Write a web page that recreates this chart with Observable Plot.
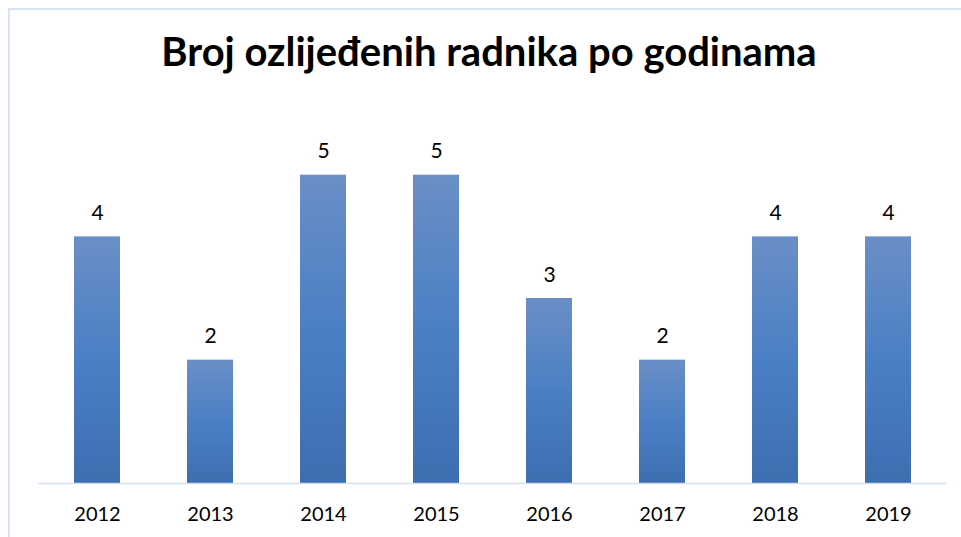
<!DOCTYPE html>
<html>
<head>
<meta charset="utf-8">
<script src="https://cdn.jsdelivr.net/npm/d3@7"></script>
<script src="https://cdn.jsdelivr.net/npm/@observablehq/plot@0.6"></script>
<style>
  html, body { margin: 0; padding: 0; background: #fff; overflow: hidden; }
  #wrap { position: relative; width: 961px; height: 537px; overflow: hidden; }
  #frame { position: absolute; left: 8px; top: 8px; width: 975px; height: 570px; border: 2px solid #d7e2f2; box-sizing: border-box; }
  #title { position: absolute; left: 0; width: 978px; top: 29px; text-align: center; font-family: Lato, "Open Sans", sans-serif; font-weight: bold; font-size: 40px; color: #000; line-height: 44px; }
  #chart { position: absolute; left: 0; top: 0; }
</style>
</head>
<body>
<div id="wrap">
  <div id="frame"></div>
  <div id="title">Broj ozlijeđenih radnika po godinama</div>
  <div id="chart"></div>
</div>
<script>
const years = ["2012", "2013", "2014", "2015", "2016", "2017", "2018", "2019"];
const injured = [4, 2, 5, 5, 3, 2, 4, 4];

const data = years.map((y, i) => ({year: y, value: injured[i]}));

const defs = () => {
  const d = d3.create("svg:defs");
  const g = d.append("linearGradient").attr("id", "barGrad")
    .attr("x1", 0).attr("y1", 0).attr("x2", 0).attr("y2", 1);
  g.append("stop").attr("offset", "0%").attr("stop-color", "#6a8fc7");
  g.append("stop").attr("offset", "50%").attr("stop-color", "#4b7fc4");
  g.append("stop").attr("offset", "100%").attr("stop-color", "#3d6eb0");
  return d.node();
};

const chart = Plot.plot({
  width: 961,
  height: 537,
  marginLeft: 38,
  marginRight: 15,
  marginBottom: 54,
  marginTop: 113,
  style: {background: "transparent", fontFamily: "Lato, 'Open Sans', sans-serif"},
  x: {domain: years, paddingInner: 0.595, paddingOuter: 0.2975, label: null},
  y: {domain: [0, 6], axis: null},
  marks: [
    defs,
    Plot.barY(data, {x: "year", y: "value", fill: "url(#barGrad)"}),
    Plot.ruleY([0], {stroke: "#d3dff0", strokeWidth: 1.5}),
    Plot.text(data, {x: "year", y: "value", text: d => String(d.value), dy: -17, lineAnchor: "bottom", fontSize: 21, fill: "#000"}),
    Plot.axisX({tickSize: 0, tickPadding: 23, fontSize: 20, color: "#000", label: null})
  ]
});
document.getElementById("chart").appendChild(chart);
</script>
</body>
</html>
